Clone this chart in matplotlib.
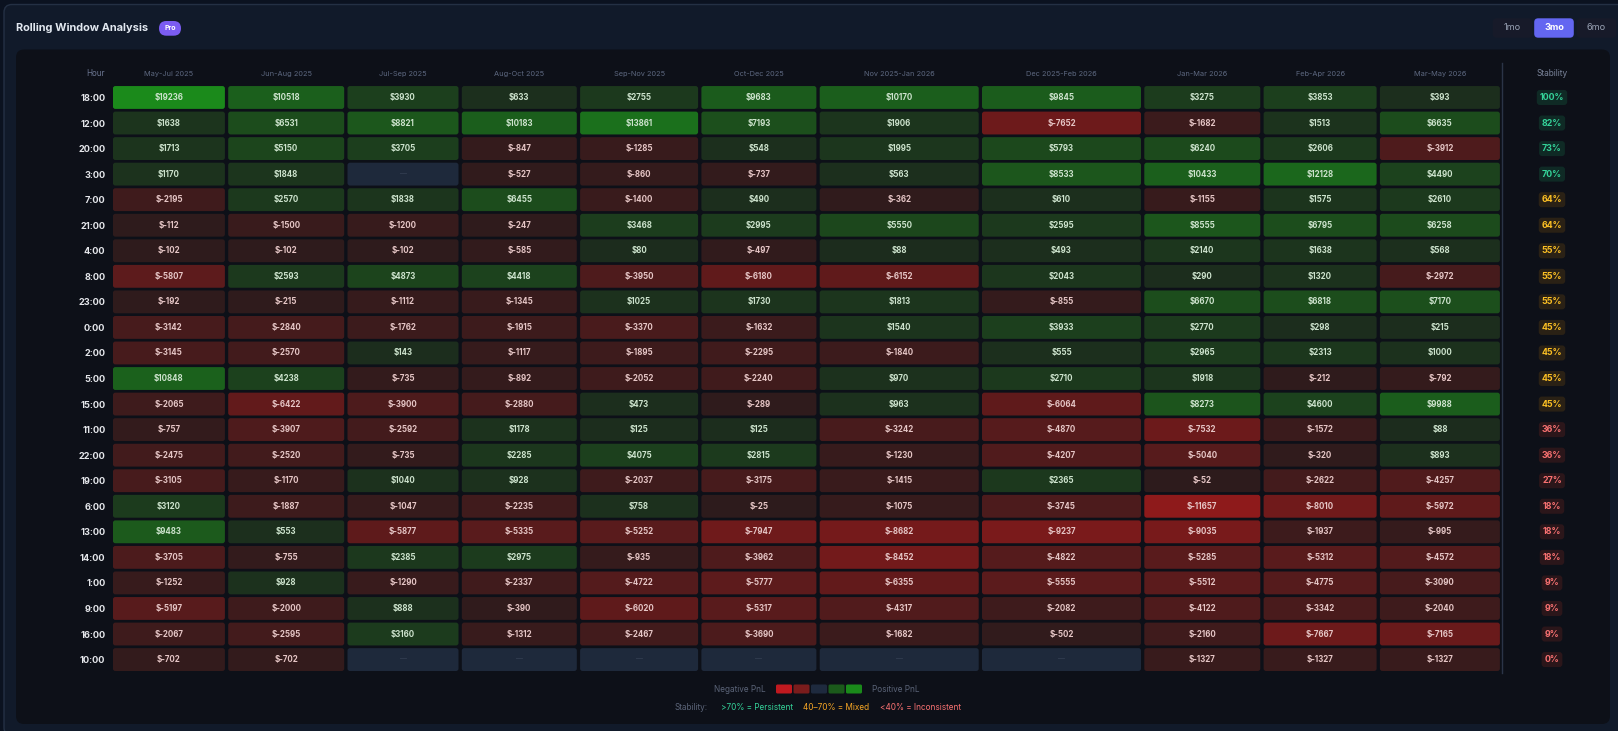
import numpy as np
import matplotlib.pyplot as plt
from matplotlib.patches import FancyBboxPatch

plt.rcParams['font.family'] = ['Inter', 'DejaVu Sans']

# --- DATA ---
windows = ["May-Jul 2025", "Jun-Aug 2025", "Jul-Sep 2025", "Aug-Oct 2025", "Sep-Nov 2025",
           "Oct-Dec 2025", "Nov 2025-Jan 2026", "Dec 2025-Feb 2026", "Jan-Mar 2026",
           "Feb-Apr 2026", "Mar-May 2026"]
hours = ["18:00", "12:00", "20:00", "3:00", "7:00", "21:00", "4:00", "8:00", "23:00", "0:00",
         "2:00", "5:00", "15:00", "11:00", "22:00", "19:00", "6:00", "13:00", "14:00", "1:00",
         "9:00", "16:00", "10:00"]
nan = np.nan
pnl = np.array([
    [19236, 10518, 3930, 633, 2755, 9683, 10170, 9845, 3275, 3853, 393],
    [1638, 6531, 8821, 10183, 13861, 7193, 1906, -7652, -1682, 1513, 6635],
    [1713, 5150, 3705, -847, -1285, 548, 1995, 5793, 6240, 2606, -3912],
    [1170, 1848, nan, -527, -860, -737, 563, 8533, 10433, 12128, 4490],
    [-2195, 2570, 1838, 6455, -1400, 490, -362, 610, -1155, 1575, 2610],
    [-112, -1500, -1200, -247, 3468, 2995, 5550, 2595, 8555, 6795, 6258],
    [-102, -102, -102, -585, 80, -497, 88, 493, 2140, 1638, 568],
    [-5807, 2593, 4873, 4418, -3950, -6180, -6152, 2043, 290, 1320, -2972],
    [-192, -215, -1112, -1345, 1025, 1730, 1813, -855, 6670, 6818, 7170],
    [-3142, -2840, -1762, -1915, -3370, -1632, 1540, 3933, 2770, 298, 215],
    [-3145, -2570, 143, -1117, -1895, -2295, -1840, 555, 2965, 2313, 1000],
    [10848, 4238, -735, -892, -2052, -2240, 970, 2710, 1918, -212, -792],
    [-2065, -6422, -3900, -2880, 473, -289, 963, -6064, 8273, 4600, 9988],
    [-757, -3907, -2592, 1178, 125, 125, -3242, -4870, -7532, -1572, 88],
    [-2475, -2520, -735, 2285, 4075, 2815, -1230, -4207, -5040, -320, 893],
    [-3105, -1170, 1040, 928, -2037, -3175, -1415, 2365, -52, -2622, -4257],
    [3120, -1887, -1047, -2235, 758, -25, -1075, -3745, -11657, -8010, -5972],
    [9483, 553, -5877, -5335, -5252, -7947, -8682, -9237, -9035, -1937, -995],
    [-3705, -755, 2385, 2975, -935, -3962, -8452, -4822, -5285, -5312, -4572],
    [-1252, 928, -1290, -2337, -4722, -5777, -6355, -5555, -5512, -4775, -3090],
    [-5197, -2000, 888, -390, -6020, -5317, -4317, -2082, -4122, -3342, -2040],
    [-2067, -2595, 3160, -1312, -2467, -3690, -1682, -502, -2160, -7667, -7165],
    [-702, -702, nan, nan, nan, nan, nan, nan, -1327, -1327, -1327],
])
stability = [100, 82, 73, 70, 64, 64, 55, 55, 55, 45, 45, 45, 45, 36, 36, 27, 18, 18, 18, 9, 9, 9, 0]
periods = ["1mo", "3mo", "6mo"]

# --- LAYOUT (pixels) ---
W, H = 1618, 731
col_w = [112, 116, 111, 115, 118, 115, 159, 159, 116, 113, 120]
gap = 3.3
x0, y0 = 112.9, 84.7
pitch = 25.55

pos_max = np.nanmax(pnl)
neg_max = -np.nanmin(pnl)


def cell_color(v):
    if np.isnan(v):
        return '#1e293b'
    if v >= 0:
        t = min(v / pos_max, 1)
        lo, hi = np.array([28, 44, 29]), np.array([27, 138, 27])
    else:
        t = min(-v / neg_max, 1)
        lo, hi = np.array([45, 27, 28]), np.array([142, 26, 27])
    return tuple((lo + t * (hi - lo)) / 255)


def badge_style(s):
    if s >= 70:
        return '#34d399', '#0f2a25'
    if s >= 40:
        return '#fbbf24', '#2a2115'
    return '#f87171', '#2b161a'


fig = plt.figure(figsize=(W / 100, H / 100), dpi=100)
fig.patch.set_facecolor('#0b1220')

# --- background card ---
bg = fig.add_axes([0, 0, 1, 1])
bg.set_xlim(0, W)
bg.set_ylim(H, 0)
bg.axis('off')
bg.add_patch(FancyBboxPatch((4, 4.5), W + 10, H, boxstyle="round,pad=0,rounding_size=8",
                            fc='#111a2a', ec='#243044', lw=1))
bg.add_patch(FancyBboxPatch((16, 49.5), 1594, 674.5, boxstyle="round,pad=0,rounding_size=8",
                            fc='#0d1018', ec='none'))
bg.text(16.5, 28.3, "Rolling Window Analysis", color='#e2e8f0', fontsize=7.9,
        fontweight='bold', va='center', ha='left')
bg.add_patch(FancyBboxPatch((159, 21), 22, 14.7, boxstyle="round,pad=0,rounding_size=7.3",
                            fc='#7b5cf2', ec='none'))
bg.text(170, 28.5, "Pro", color='white', fontsize=5, fontweight='bold', ha='center', va='center')

# period buttons
btn_x = [1512.5, 1554, 1596.5]
for bx, p in zip(btn_x, periods):
    active = p == "3mo"
    bg.add_patch(FancyBboxPatch((bx - 19.8, 18.3), 39.6, 19.4,
                                boxstyle="round,pad=0,rounding_size=4",
                                fc='#6366f1' if active else '#171a29', ec='none'))
    bg.text(bx, 28, p, color='white' if active else '#9aa3b5', fontsize=6.6,
            fontweight='bold' if active else 'normal', ha='center', va='center')

# divider before stability
bg.plot([1501.7, 1501.7], [63, 672.7], color='#2b3447', lw=1)

# --- heatmap table ---
n_rows, n_cols = pnl.shape
lefts = np.concatenate([[0], np.cumsum(np.array(col_w[:-1]) + gap)])
x_end = lefts[-1] + col_w[-1]
tab_h = n_rows * pitch
ax = fig.add_axes([x0 / W, 1 - (y0 + tab_h) / H, x_end / W, tab_h / H])
ax.set_xlim(0, x_end)
ax.set_ylim(n_rows, 0)
ax.patch.set_alpha(0)
for s in ax.spines.values():
    s.set_visible(False)

pad_y = 1.35 / pitch
for i in range(n_rows):
    for j in range(n_cols):
        v = pnl[i, j]
        ax.add_patch(FancyBboxPatch((lefts[j], i + pad_y), col_w[j], 1 - 2 * pad_y,
                                    boxstyle="round,pad=0,rounding_size=2.5",
                                    mutation_aspect=1 / pitch, fc=cell_color(v), ec='none'))
        cx = lefts[j] + col_w[j] / 2
        if np.isnan(v):
            ax.text(cx, i + 0.5, "—", color='#3a4558', fontsize=5, ha='center', va='center')
        else:
            ax.text(cx, i + 0.5, f"${int(v)}", color='#cde3cd' if v >= 0 else '#e6c6c6',
                    fontsize=5.7, fontweight='bold', ha='center', va='center')

ax.set_xticks(lefts + np.array(col_w) / 2)
ax.set_xticklabels(windows)
ax.xaxis.tick_top()
ax.tick_params(axis='x', length=0, pad=5.3, labelsize=5.3, labelcolor='#5d6880')
ax.set_yticks(np.arange(n_rows) + 0.5)
ax.set_yticklabels(hours)
ax.tick_params(axis='y', length=0, pad=5.4, labelsize=6.6, labelcolor='#e5e7eb')
for lbl in ax.get_yticklabels():
    lbl.set_fontweight('bold')

ax.text(-8.3, -0.45, "Hour", color='#6b7691', fontsize=5.8, ha='right', va='center', clip_on=False)

# stability column
stab_x = 1552 - x0
ax.text(stab_x, -0.43, "Stability", color='#7a849a', fontsize=6, ha='center', va='center',
        clip_on=False)
for i, s in enumerate(stability):
    tc, fc = badge_style(s)
    ax.text(stab_x, i + 0.5, f"{s}%", color=tc, fontsize=6.4, fontweight='bold',
            ha='center', va='center', clip_on=False,
            bbox=dict(boxstyle='round,pad=0.34,rounding_size=0.35', fc=fc, ec='none'))

# --- legend ---
bg.text(766, 689, "Negative PnL", color='#5b6478', fontsize=5.9, ha='right', va='center')
sw_cols = ['#c0191f', '#7a1c1c', '#1e2a3e', '#1b5a1b', '#1a8a1a']
for k, c in enumerate(sw_cols):
    bg.add_patch(FancyBboxPatch((776 + k * 17.5, 684.5), 16, 9,
                                boxstyle="round,pad=0,rounding_size=1.5", fc=c, ec='none'))
bg.text(871.7, 689, "Positive PnL", color='#5b6478', fontsize=5.9, ha='left', va='center')

bg.text(674.7, 707, "Stability:", color='#5b6478', fontsize=5.9, ha='left', va='center')
bg.text(720.7, 707, ">70% = Persistent", color='#34d399', fontsize=5.9, ha='left', va='center')
bg.text(803, 707, "40–70% = Mixed", color='#f5a524', fontsize=5.9, ha='left', va='center')
bg.text(880, 707, "<40% = Inconsistent", color='#f87171', fontsize=5.9, ha='left', va='center')

fig.savefig("out.png", dpi=100, facecolor=fig.get_facecolor())
